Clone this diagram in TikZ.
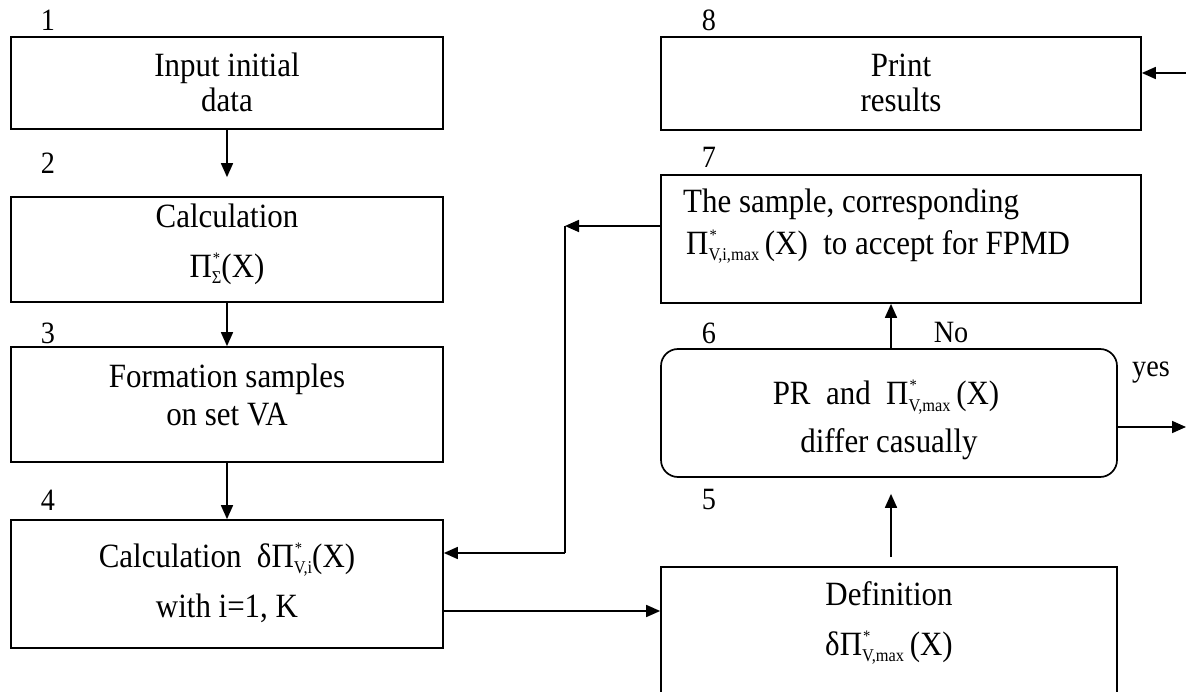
\documentclass[tikz,border=0pt]{standalone}
\usepackage{fontspec}
\setmainfont{Liberation Serif}[FakeStretch=0.91]
\usetikzlibrary{arrows.meta}
\newcommand{\Pst}[1]{Π\makebox[0pt][l]{\kern1pt\raisebox{14pt}{\fontsize{16}{16}\selectfont *}}\raisebox{-6pt}{\fontsize{18}{18}\selectfont #1}}
\begin{document}
\begin{tikzpicture}[x=1pt,y=-1pt,
  box/.style={draw, line width=1.7pt, inner sep=0pt},
  rbox/.style={draw, line width=1.7pt, inner sep=0pt, rounded corners=17pt},
  txt/.style={inner sep=0pt, anchor=base, font=\fontsize{34}{37}\selectfont},
  ltxt/.style={inner sep=0pt, anchor=base west, font=\fontsize{34}{37}\selectfont},
  num/.style={inner sep=0pt, font=\fontsize{31}{35}\selectfont},
  arr/.style={line width=1.7pt, -{Triangle[length=14pt,width=12pt]}},
  ln/.style={line width=1.7pt}]
\useasboundingbox (0,0) rectangle (1186,692);
\clip (0,0) rectangle (1186,692);
% boxes
\node[box, minimum width=432pt, minimum height=92pt] (b1) at (227,83) {};
\node[box, minimum width=432pt, minimum height=105pt] (b2) at (227,249.5) {};
\node[box, minimum width=432pt, minimum height=115pt] (b3) at (227,404.5) {};
\node[box, minimum width=432pt, minimum height=128pt] (b4) at (227,584) {};
\node[box, minimum width=456pt, minimum height=150pt] (b5) at (889,642) {};
\node[rbox, minimum width=456pt, minimum height=128pt] (b6) at (889,413) {};
\node[box, minimum width=480pt, minimum height=128pt] (b7) at (901,239) {};
\node[box, minimum width=480pt, minimum height=93pt] (b8) at (901,83.5) {};
% texts
\node[txt] (t1a) at (227,77) {Input initial};
\node[txt] (t1b) at (227,112) {data};
\node[txt] (t2a) at (227,228) {Calculation};
\node[txt] (t2b) at (227,278) {\Pst{Σ}(X)};
\node[txt] (t3a) at (227,388) {Formation samples};
\node[txt] (t3b) at (227,425) {on set VA};
\node[txt] (t4a) at (227,567) {Calculation\ \ δ\Pst{V,i}(X)};
\node[txt] (t4b) at (227,617) {with i=1, K};
\node[txt] (t5a) at (889,605) {Definition};
\node[txt] (t5b) at (889,655) {δ\Pst{V,max}\,(X)};
\node[txt] (t6a) at (886,405) {PR\ \ and\ \ \Pst{V,max}\,(X)};
\node[txt] (t6b) at (889,452) {differ casually};
\node[ltxt] (t7a) at (683,213) {The sample, corresponding};
\node[ltxt] (t7b) at (686,255) {\Pst{V,i,max}\,(X)\ \ to accept for FPMD};
\node[txt] (t8a) at (901,77) {Print};
\node[txt] (t8b) at (901,112) {results};
% numbers and labels
\node[num] (n1) at (48,20) {1};
\node[num] (n2) at (48,163) {2};
\node[num] (n3) at (48,333) {3};
\node[num] (n4) at (48,500) {4};
\node[num] (n8) at (709,20) {8};
\node[num] (n7) at (709,157) {7};
\node[num] (n6) at (709,333) {6};
\node[num] (n5) at (709,500) {5};
\node[num] (lno) at (951,333) {No};
\node[num] (lyes) at (1151,373) {yes};
% coordinates
\coordinate (c45) at (0,611);
\coordinate (k1) at (565,226);
\coordinate (k2) at (565,553);
\coordinate (yesend) at (1186,427);
\coordinate (in8) at (1186,73);
% connectors
\draw[arr] (b1.south) -- ([yshift=19pt]b2.north);
\draw[arr] (b2.south) -- (b3.north);
\draw[arr] (b3.south) -- (b4.north);
\draw[arr] (b4.east |- c45) -- (b5.west |- c45);
\draw[arr] ([xshift=2pt,yshift=9pt]b5.north) -- ([xshift=2pt,yshift=-16pt]b6.south);
\draw[arr] ([xshift=2pt]b6.north) -- ([xshift=2pt]b6.north |- b7.south);
\draw[arr] (b6.east |- yesend) -- (yesend);
\draw[arr] (in8) -- (b8.east |- in8);
\draw[arr] (b7.west |- k1) -- (k1);
\draw[ln] (k1) -- (k2);
\draw[arr] (k2) -- (b4.east |- k2);
\end{tikzpicture}
\end{document}
